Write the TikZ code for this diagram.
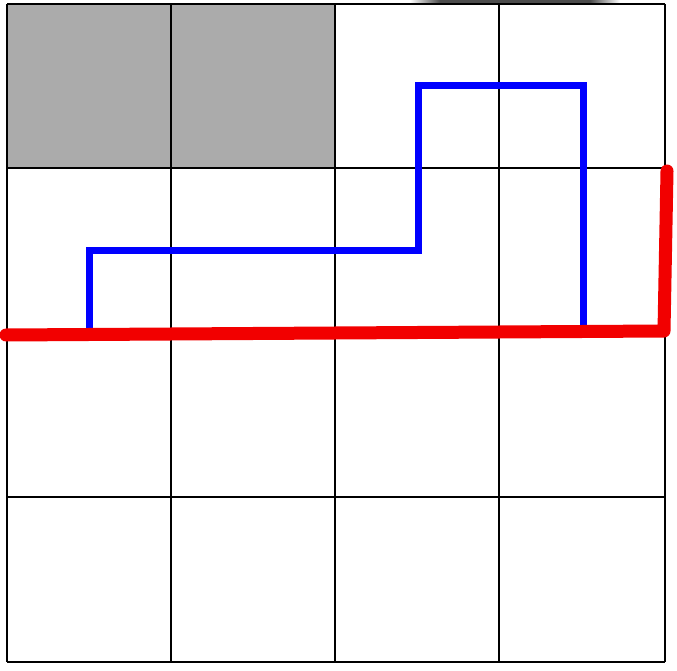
\documentclass[tikz,border=0pt]{standalone}
\begin{document}
\begin{tikzpicture}[x=1pt,y=-1pt,
  gridline/.style={line width=2.6pt,black},
  bluepath/.style={line width=7pt,blue,line join=miter},
  redpath/.style={line width=13pt,red!95!black,line cap=round,line join=round}]
\useasboundingbox (0,0) rectangle (677,671);
\fill[white] (0,0) rectangle (677,671);
% shadow at top
\fill[black!70] (440,0) rectangle (590,4);
\shade[left color=white,right color=black!70] (410,0) rectangle (440,4);
\shade[left color=black!70,right color=white] (590,0) rectangle (620,4);
% gray cells
\fill[black!33] (7,4) rectangle (335,168);
% grid
\foreach \x in {7,171,335,499,665} \draw[gridline] (\x,4) -- (\x,662);
\foreach \y in {4,168,333,497,662} \draw[gridline] (7,\y) -- (665,\y);
% blue path
\coordinate (b1) at (89,330);
\coordinate (b2) at (89,250);
\coordinate (b3) at (418,250);
\coordinate (b4) at (418,86);
\coordinate (b5) at (583,86);
\coordinate (b6) at (583,328);
\draw[bluepath] (b1) -- (b2) -- (b3) -- (b4) -- (b5) -- (b6);
% red path
\coordinate (r1) at (6,335);
\coordinate (r2) at (664,331);
\coordinate (r3) at (667,171);
\draw[redpath] (r1) -- (r2) -- (r3);
\end{tikzpicture}
\end{document}
